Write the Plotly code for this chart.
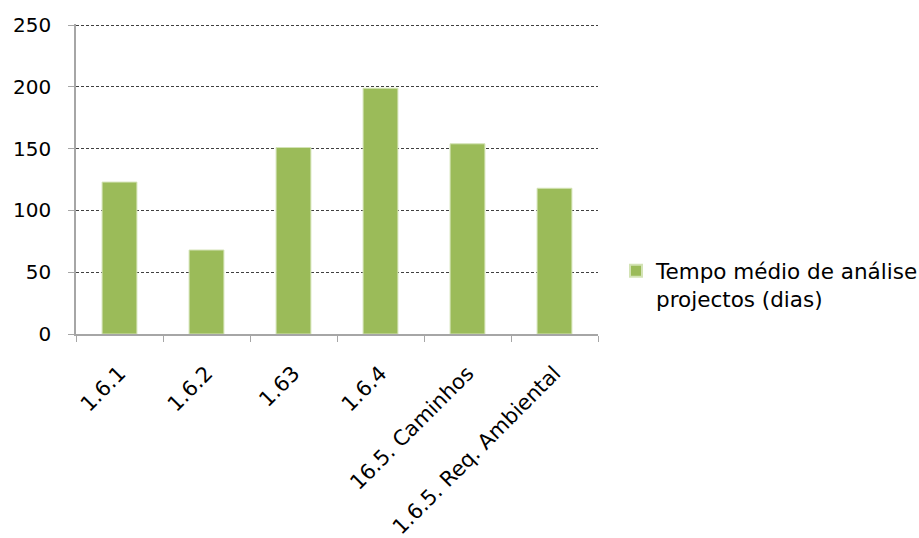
import plotly.graph_objects as go

categories = ["1.6.1", "1.6.2", "1.63", "1.6.4", "16.5. Caminhos", "1.6.5. Req. Ambiental"]
values = [123, 68, 151, 199, 154, 118]
series_name = "Tempo médio de análise<br>projectos (dias)"
y_ticks = [0, 50, 100, 150, 200, 250]

fig = go.Figure()
fig.add_trace(go.Bar(
    x=categories,
    y=values,
    name=series_name,
    marker=dict(color="#9BBB59", line=dict(color="#D3E3B5", width=1)),
    showlegend=True,
))

font_family = "DejaVu Sans, Verdana, sans-serif"

fig.update_layout(
    width=919,
    height=538,
    margin=dict(l=76, r=321, t=24, b=204, autoexpand=False),
    plot_bgcolor="white",
    paper_bgcolor="white",
    bargap=0.6,
    font=dict(family=font_family, size=20, color="#000000"),
    showlegend=True,
    legend=dict(
        x=1.0345, y=0.27, xanchor="left", yanchor="top",
        valign="top",
        font=dict(family=font_family, size=21.5, color="#000000"),
        itemsizing="constant",
        bgcolor="rgba(0,0,0,0)",
    ),
    xaxis=dict(
        automargin=False,
        showline=True, linecolor="#A6A6A6", linewidth=1.5,
        ticks="outside", ticklen=6, tickcolor="#A6A6A6",
        tickson="boundaries",
        tickangle=-45,
        ticklabelstandoff=17,
        tickfont=dict(family=font_family, size=21, color="#000000"),
        showgrid=False,
    ),
    yaxis=dict(
        automargin=False,
        # a little headroom so the 250 gridline is kept by plotly
        range=[0, 251],
        tickvals=y_ticks,
        showline=True, linecolor="#A6A6A6", linewidth=1.5,
        ticks="outside", ticklen=6, tickcolor="#A6A6A6",
        ticklabelstandoff=13,
        showgrid=True, gridcolor="#404040", gridwidth=1,
        griddash="3px,2px",
        zeroline=False,
        tickfont=dict(family=font_family, size=20, color="#000000"),
    ),
)

fig.write_html("out.html")
